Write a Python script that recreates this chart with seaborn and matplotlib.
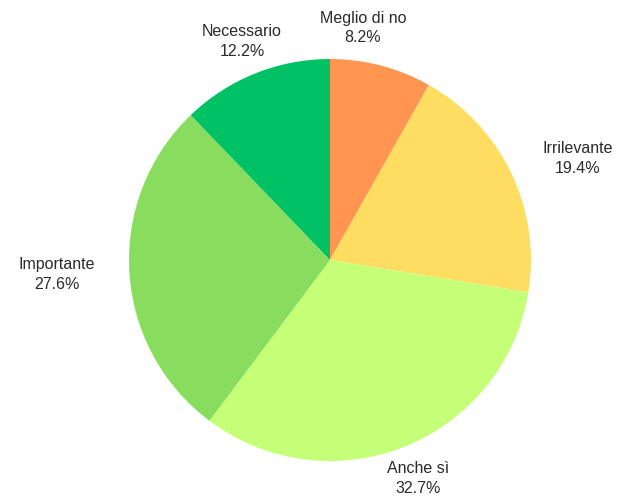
import matplotlib
matplotlib.use("Agg")
import matplotlib.pyplot as plt
import seaborn as sns

sns.set_theme(style="white")
plt.rcParams['font.family'] = ['Liberation Sans', 'DejaVu Sans']

# Dati (in senso orario dall'alto)
categorie = ["Meglio di no", "Irrilevante", "Anche sì", "Importante", "Necessario"]
percentuali = [8.2, 19.4, 32.7, 27.6, 12.2]
colori = ["#FF9550", "#FFDD60", "#C5FF78", "#88DC5E", "#00C264"]

etichette = [f"{c}\n{p}%" for c, p in zip(categorie, percentuali)]

fig = plt.figure(figsize=(6.17, 4.98), dpi=100)
ax = fig.add_axes([0, 0, 1, 1])

wedges, texts = ax.pie(percentuali, labels=etichette, colors=colori,
                       startangle=90, counterclock=False,
                       labeldistance=1.17, radius=1,
                       wedgeprops=dict(linewidth=0),
                       textprops=dict(fontsize=11.5, color="#2a2a2a"))

allineamenti = ["center", "left", "center", "right", "center"]
for t, a in zip(texts, allineamenti):
    t.set_horizontalalignment(a)
    t.set_multialignment("center")
    t.set_linespacing(1.4)

# l'etichetta "Meglio di no" è spostata verso il centro
x, y = texts[0].get_position()
texts[0].set_position((x * 0.55, y * 1.02))

# centro della torta a (330, 260) px, raggio ~201 px
ax.set_xlim(-330 / 201, 287 / 201)
ax.set_ylim(-238 / 201, 260 / 201)
ax.set_aspect("equal")
ax.axis("off")

fig.savefig("out.png", dpi=100)
